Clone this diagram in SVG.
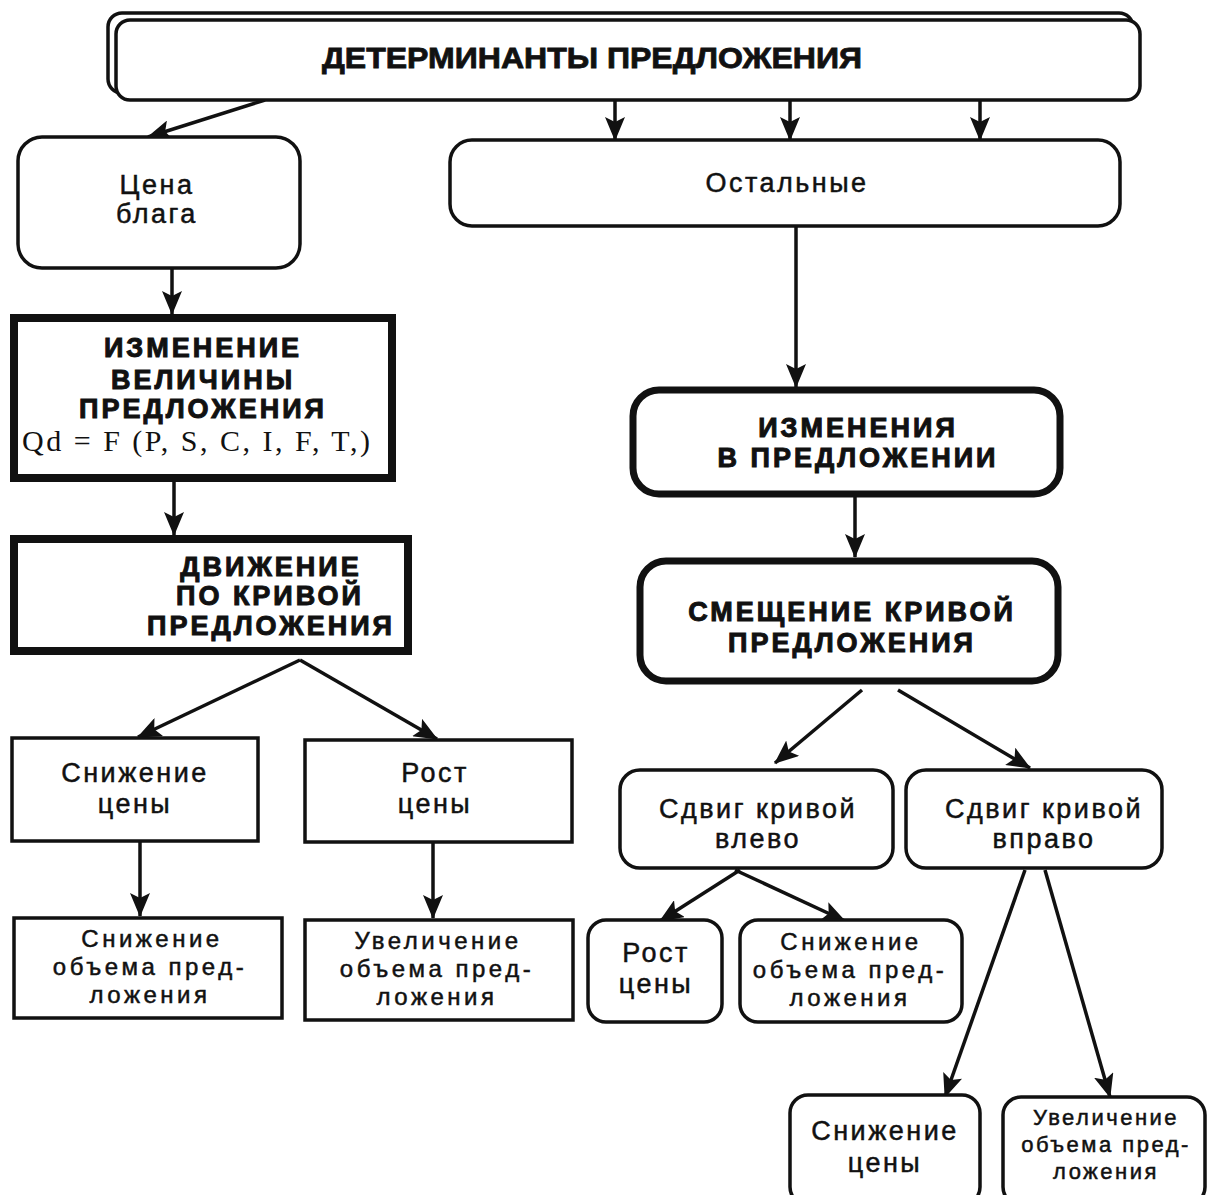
<svg xmlns="http://www.w3.org/2000/svg" width="1208" height="1195" viewBox="0 0 1208 1195">
<style>
.b{fill:#fff;stroke:#111;stroke-width:3.5}
.tk{fill:#fff;stroke:#111;stroke-width:8}
.rk{fill:#fff;stroke:#111;stroke-width:7}
.t{font-family:"Liberation Sans",Arial,sans-serif;font-size:27px;letter-spacing:2.5px;fill:#111;stroke:#111;stroke-width:0.5;text-anchor:middle}
.m{font-size:24px;letter-spacing:3.5px}
.r{font-size:22px;letter-spacing:2.5px}
.h{font-family:"Liberation Sans",Arial,sans-serif;font-size:27px;font-weight:bold;letter-spacing:3px;fill:#111;stroke:#111;stroke-width:1;text-anchor:middle}
.s{font-family:"Liberation Serif","Times New Roman",serif;font-size:30px;fill:#111;text-anchor:middle}
.c{stroke:#111;stroke-width:3.5;fill:none;marker-end:url(#ah)}
</style>
<defs>
<marker id="ah" markerUnits="userSpaceOnUse" markerWidth="24" markerHeight="20" refX="23" refY="10" orient="auto">
<path d="M0,0 L24,10 L0,20 L5,10 z" fill="#111"/>
</marker>
</defs>
<rect width="1208" height="1195" fill="#fff"/>
<g id="connectors">
<line class="c" x1="265" y1="100" x2="148" y2="137"/>
<line class="c" x1="615" y1="100" x2="615" y2="140"/>
<line class="c" x1="790" y1="100" x2="790" y2="140"/>
<line class="c" x1="980" y1="100" x2="980" y2="140"/>
<line class="c" x1="172" y1="268" x2="172" y2="314"/>
<line class="c" x1="174" y1="480" x2="174" y2="535"/>
<line class="c" x1="300" y1="660" x2="138" y2="737"/>
<line class="c" x1="300" y1="660" x2="437" y2="739"/>
<line class="c" x1="140" y1="842" x2="140" y2="916"/>
<line class="c" x1="433" y1="843" x2="433" y2="918"/>
<line class="c" x1="796" y1="226" x2="796" y2="387"/>
<line class="c" x1="855" y1="497" x2="855" y2="557"/>
<line class="c" x1="862" y1="690" x2="775" y2="763"/>
<line class="c" x1="898" y1="690" x2="1030" y2="768"/>
<line class="c" x1="740" y1="870" x2="660" y2="921"/>
<line class="c" x1="735" y1="870" x2="845" y2="921"/>
<line class="c" x1="1025" y1="870" x2="945" y2="1097"/>
<line class="c" x1="1045" y1="870" x2="1110" y2="1097"/>
</g>
<g id="n-top">
<rect class="b" x="108" y="13" width="1025" height="80" rx="14"/>
<rect class="b" x="116" y="20" width="1024" height="80" rx="14"/>
<text x="592" y="68" font-family="'Liberation Sans',Arial,sans-serif" font-size="29" font-weight="bold" fill="#111" stroke="#111" stroke-width="0.8" text-anchor="middle" textLength="540" lengthAdjust="spacingAndGlyphs">ДЕТЕРМИНАНТЫ ПРЕДЛОЖЕНИЯ</text>
</g>
<g id="n-price">
<rect class="b" x="18" y="137" width="282" height="131" rx="24"/>
<text class="t" x="157" y="194">Цена</text>
<text class="t" x="157" y="223">блага</text>
</g>
<g id="n-other">
<rect class="b" x="450" y="140" width="670" height="86" rx="22"/>
<text class="t" x="787" y="192">Остальные</text>
</g>
<g id="n-qchange">
<rect class="tk" x="14" y="318" width="378" height="160"/>
<text class="h" x="203" y="357">ИЗМЕНЕНИЕ</text>
<text class="h" x="203" y="389">ВЕЛИЧИНЫ</text>
<text class="h" x="203" y="418">ПРЕДЛОЖЕНИЯ</text>
<text class="s" x="196" y="451" textLength="348" lengthAdjust="spacing">Qd = F (P, S, C, I, F, T,)</text>
</g>
<g id="n-move">
<rect class="tk" x="14" y="539" width="394" height="112"/>
<text class="h" x="271" y="576">ДВИЖЕНИЕ</text>
<text class="h" x="270" y="605">ПО КРИВОЙ</text>
<text class="h" x="271" y="635">ПРЕДЛОЖЕНИЯ</text>
</g>
<g id="n-dec">
<rect class="b" x="12" y="738" width="246" height="103"/>
<text class="t" x="135" y="782">Снижение</text>
<text class="t" x="135" y="813">цены</text>
</g>
<g id="n-inc">
<rect class="b" x="305" y="740" width="267" height="102"/>
<text class="t" x="435" y="782">Рост</text>
<text class="t" x="435" y="813">цены</text>
</g>
<g id="n-decvol">
<rect class="b" x="14" y="918" width="268" height="100"/>
<text class="t m" x="152" y="947">Снижение</text>
<text class="t m" x="150" y="975">объема пред-</text>
<text class="t m" x="150" y="1003">ложения</text>
</g>
<g id="n-incvol">
<rect class="b" x="305" y="920" width="268" height="100"/>
<text class="t m" x="438" y="949">Увеличение</text>
<text class="t m" x="437" y="977">объема пред-</text>
<text class="t m" x="437" y="1005">ложения</text>
</g>
<g id="n-changes">
<rect class="rk" x="633" y="390" width="427" height="104" rx="26"/>
<text class="h" x="858" y="437">ИЗМЕНЕНИЯ</text>
<text class="h" x="858" y="467">В ПРЕДЛОЖЕНИИ</text>
</g>
<g id="n-shift">
<rect class="rk" x="640" y="561" width="418" height="120" rx="26"/>
<text class="h" x="852" y="621">СМЕЩЕНИЕ КРИВОЙ</text>
<text class="h" x="852" y="652">ПРЕДЛОЖЕНИЯ</text>
</g>
<g id="n-left">
<rect class="b" x="620" y="770" width="273" height="98" rx="20"/>
<text class="t" x="758" y="818">Сдвиг кривой</text>
<text class="t" x="758" y="848">влево</text>
</g>
<g id="n-right">
<rect class="b" x="906" y="770" width="256" height="98" rx="20"/>
<text class="t" x="1044" y="818">Сдвиг кривой</text>
<text class="t" x="1044" y="848">вправо</text>
</g>
<g id="n-lrise">
<rect class="b" x="588" y="920" width="134" height="102" rx="18"/>
<text class="t" x="656" y="962">Рост</text>
<text class="t" x="656" y="993">цены</text>
</g>
<g id="n-ldecvol">
<rect class="b" x="740" y="920" width="222" height="102" rx="18"/>
<text class="t m" x="851" y="950">Снижение</text>
<text class="t m" x="850" y="978">объема пред-</text>
<text class="t m" x="850" y="1006">ложения</text>
</g>
<g id="n-rdec">
<rect class="b" x="790" y="1095" width="190" height="110" rx="18"/>
<text class="t" x="885" y="1140">Снижение</text>
<text class="t" x="885" y="1172">цены</text>
</g>
<g id="n-rincvol">
<rect class="b" x="1003" y="1097" width="202" height="108" rx="18"/>
<text class="t r" x="1106" y="1125">Увеличение</text>
<text class="t r" x="1106" y="1152">объема пред-</text>
<text class="t r" x="1106" y="1179">ложения</text>
</g>
</svg>
